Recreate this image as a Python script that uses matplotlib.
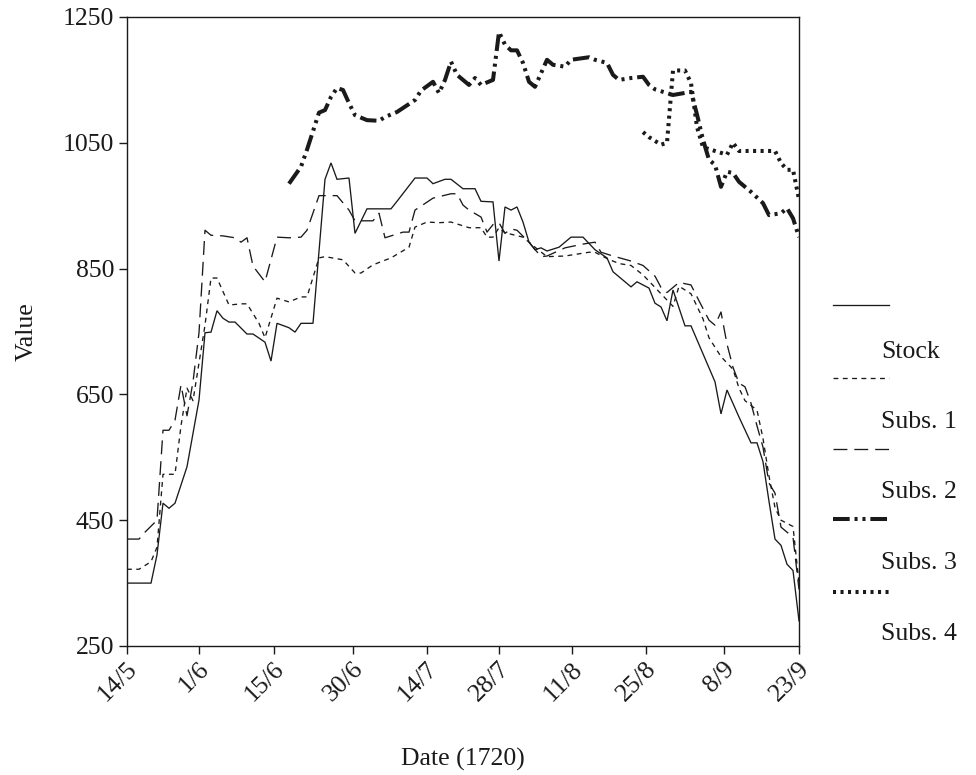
import matplotlib
matplotlib.use("Agg")
import matplotlib.pyplot as plt
import matplotlib.transforms as mtransforms
from matplotlib.lines import Line2D

plt.rcParams['font.family'] = ['Liberation Serif', 'DejaVu Serif']
plt.rcParams['lines.scale_dashes'] = False

# x = observation index (trading days from 14/5/1720)
tick_pos = [0, 12, 24.5, 37.7, 50, 62, 74.2, 86.5, 99.5, 112]
tick_labels = ["14/5", "1/6", "15/6", "30/6", "14/7", "28/7", "11/8", "25/8", "8/9", "23/9"]

stock_x = [0, 4, 5, 6, 7, 8, 10, 12, 13, 14, 15, 16, 17, 18, 20, 21, 23, 24, 25, 27, 28, 29, 31,
           33, 34, 35, 37, 38, 40, 44, 45, 48, 50, 51, 53, 54, 56, 58, 59, 61, 62, 63, 64, 65, 66,
           67, 68, 69, 70, 72, 74, 76, 78, 80, 81, 82, 84, 85, 87, 88, 89, 90, 91, 93, 94, 98, 99,
           100, 102, 104, 105, 106, 107, 108, 109, 110, 111, 112]
stock_y = [350, 350, 395, 477, 469, 477, 535, 641, 748, 749, 783, 771, 765, 765, 746, 746, 733, 703,
           763, 756, 749, 763, 763, 992, 1018, 992, 994, 906, 945, 945, 957, 994, 994, 985, 992, 992,
           977, 977, 957, 956, 862, 948, 943, 948, 924, 892, 880, 883, 878, 884, 900, 900, 880, 867,
           845, 837, 821, 829, 819, 795, 789, 767, 816, 759, 759, 670, 619, 657, 614, 573, 573, 543,
           480, 420, 410, 380, 370, 290]

subs1_x = [0, 2, 4, 5, 6, 8, 9, 10, 11, 12, 13, 14, 15, 17, 19, 20, 22, 23, 25, 27, 29, 30, 32, 33,
           36, 38, 39, 41, 44, 47, 48, 50, 52, 54, 57, 59, 60, 61, 62, 63, 66, 68, 70, 73, 77, 78,
           80, 82, 84, 86, 88, 90, 91, 92, 94, 96, 97, 99, 100, 101, 102, 103, 105, 106, 107, 108,
           109, 110, 111, 112]
subs1_y = [372, 372, 384, 407, 523, 523, 600, 660, 640, 700, 760, 835, 835, 792, 794, 794, 763, 740,
           803, 797, 805, 805, 867, 869, 864, 843, 843, 856, 867, 884, 916, 924, 923, 924, 915, 915,
           900, 900, 915, 907, 900, 884, 869, 870, 876, 876, 866, 858, 855, 840, 820, 800, 790, 822,
           810, 770, 740, 710, 700, 690, 660, 640, 625, 580, 520, 470, 450, 445, 440, 350]

subs2_x = [0, 2, 3, 5, 6, 7, 8, 9, 10, 11, 12, 13, 14, 16, 18, 19, 20, 21, 23, 25, 27, 29, 30, 32,
           35, 37, 38, 41, 42, 43, 46, 47, 48, 51, 54, 55, 56, 57, 59, 60, 61, 62, 63, 64, 65, 67,
           69, 70, 73, 76, 78, 79, 81, 84, 86, 88, 89, 90, 92, 94, 95, 97, 98, 99, 100, 101, 102,
           103, 104, 105, 106, 107, 108, 109, 110, 111, 112]
subs2_y = [420, 420, 431, 450, 593, 593, 609, 665, 616, 670, 748, 911, 903, 902, 899, 892, 899, 854,
           829, 900, 899, 900, 911, 966, 966, 943, 926, 926, 938, 899, 908, 908, 943, 962, 969, 969,
           951, 943, 932, 908, 920, 923, 906, 913, 911, 892, 869, 870, 883, 889, 892, 876, 870, 862,
           855, 838, 820, 812, 828, 824, 805, 768, 760, 781, 730, 693, 668, 662, 636, 600, 566, 509,
           493, 439, 431, 423, 340]

subs3_x = [27, 29, 30, 32, 33, 34, 35, 36, 37, 38, 40, 42, 43, 45, 48, 49, 51, 52, 53, 54, 55, 56,
           57, 58, 59, 61, 62, 63, 64, 65, 66, 67, 68, 70, 71, 73, 74, 77, 78, 80, 81, 82, 84, 86,
           87, 88, 91, 94, 95, 96, 97, 98, 99, 100, 101, 102, 104, 106, 107, 109, 110, 111, 112]
subs3_y = [985, 1012, 1039, 1098, 1102, 1123, 1137, 1134, 1113, 1094, 1086, 1085, 1091, 1099, 1118,
           1133, 1147, 1129, 1150, 1179, 1158, 1150, 1142, 1153, 1142, 1150, 1226, 1206, 1197, 1197,
           1177, 1147, 1139, 1182, 1174, 1171, 1182, 1186, 1182, 1177, 1158, 1150, 1153, 1155, 1142,
           1135, 1126, 1131, 1095, 1055, 1023, 1015, 980, 1004, 1002, 988, 972, 954, 935, 938, 946,
           930, 900]

subs4_x = [86, 87, 89, 90, 91, 93, 94, 95, 96, 100, 101, 102, 108, 109, 110, 111, 112]
subs4_y = [1067, 1059, 1047, 1050, 1165, 1165, 1145, 1075, 1043, 1031, 1050, 1037, 1037, 1018, 1007,
           1007, 960]

series_names = ["Stock", "Subs. 1", "Subs. 2", "Subs. 3", "Subs. 4"]

fig = plt.figure(figsize=(9.76, 7.75), dpi=100)
ax = fig.add_axes([127/976, 1 - 646/775, (799-127)/976, (646-17)/775])

ink = '#1a1a1a'
thin = 0.95
thick = 2.9
styles = [
    dict(color=ink, lw=thin, linestyle='-'),
    dict(color=ink, lw=thin, dashes=(3.5, 3.2)),
    dict(color=ink, lw=thin, dashes=(10, 5)),
    dict(color=ink, lw=thick, dashes=(12, 3.5, 2.2, 3.5, 2.2, 3.5), dash_capstyle='butt'),
    dict(color=ink, lw=thick, dashes=(2.2, 3.2), dash_capstyle='butt'),
]
data = [(stock_x, stock_y), (subs1_x, subs1_y), (subs2_x, subs2_y), (subs3_x, subs3_y), (subs4_x, subs4_y)]
for (xs, ys), st in zip(data, styles):
    ax.plot(xs, ys, solid_joinstyle='miter', **st)

fs = 18.5
ax.set_xlim(0, 112)
ax.set_ylim(250, 1250)
ax.set_yticks([250, 450, 650, 850, 1050, 1250])
ax.set_xticks(tick_pos)
ax.set_xticklabels(tick_labels, rotation=45, ha='right', va='center', rotation_mode='anchor')
ax.tick_params(direction='out', length=6, width=1.0, labelsize=fs, colors=ink)
ax.tick_params(axis='y', pad=3)
ax.tick_params(axis='x', pad=14)
offset = mtransforms.ScaledTranslation(0.07, 0.08, fig.dpi_scale_trans)
for lab in ax.get_xticklabels():
    lab.set_transform(lab.get_transform() + offset)
for sp in ax.spines.values():
    sp.set_linewidth(1.0)
    sp.set_color(ink)
ax.set_xlabel("Date (1720)", fontsize=fs, labelpad=30, color=ink)
ax.set_ylabel("Value", fontsize=fs, labelpad=18, color=ink)

# legend: handle above, label below-right
leg_line_y = [305, 378, 449, 519, 592]
leg_text_y = [352, 422, 492, 563, 634]
for name, st, ly, ty in zip(series_names, styles, leg_line_y, leg_text_y):
    fy = 1 - ly / 775
    ln = Line2D([833/976, 889/976], [fy, fy], transform=fig.transFigure, **st)
    fig.add_artist(ln)
    fig.text(881/976, 1 - ty/775, name, fontsize=fs, va='center', ha='left', color=ink)

fig.savefig("out.png", dpi=100)
